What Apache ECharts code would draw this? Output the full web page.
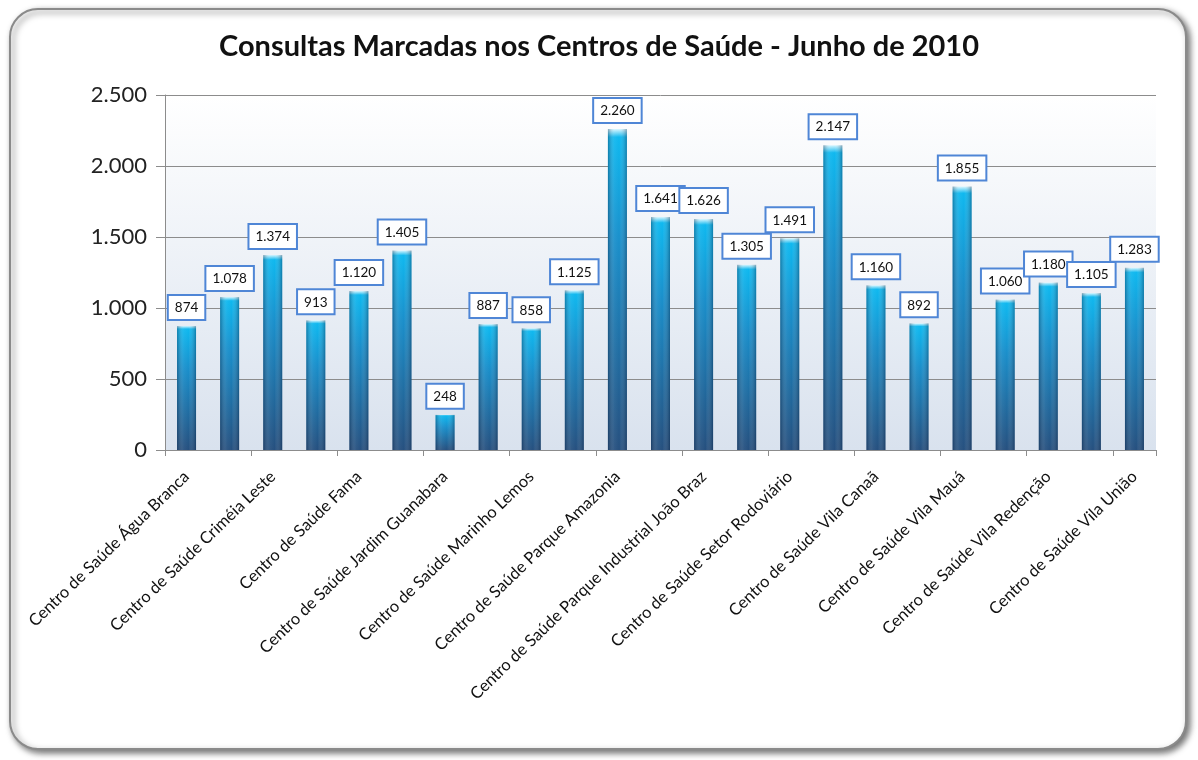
<!DOCTYPE html>
<html>
<head>
<meta charset="utf-8">
<script src="https://cdn.jsdelivr.net/npm/echarts@6/dist/echarts.min.js"></script>
<style>
  html, body { margin: 0; padding: 0; background: #fff; }
  #chart { width: 1198px; height: 760px; }
</style>
</head>
<body>
<div id="chart"></div>
<script>
// categories (only every other name is printed on the axis)
var centros = [
  'Centro de Saúde Água Branca',
  'Centro de Saúde Bairro Goiá',
  'Centro de Saúde Criméia Leste',
  'Centro de Saúde Criméia Oeste',
  'Centro de Saúde Fama',
  'Centro de Saúde Jardim América',
  'Centro de Saúde Jardim Guanabara',
  'Centro de Saúde Jardim Novo Mundo',
  'Centro de Saúde Marinho Lemos',
  'Centro de Saúde Novo Horizonte',
  'Centro de Saúde Parque Amazonia',
  'Centro de Saúde Parque Atheneu',
  'Centro de Saúde Parque Industrial João Braz',
  'Centro de Saúde Setor Pedro Ludovico',
  'Centro de Saúde Setor Rodoviário',
  'Centro de Saúde Vila Boa',
  'Centro de Saúde Vila Canaã',
  'Centro de Saúde Vila Isaura',
  'Centro de Saúde Vila Mauá',
  'Centro de Saúde Vila Nova',
  'Centro de Saúde Vila Redenção',
  'Centro de Saúde Vila Santa Helena',
  'Centro de Saúde Vila União'
]
var consultas = [874, 1078, 1374, 913, 1120, 1405, 248, 887, 858, 1125, 2260,
  1641, 1626, 1305, 1491, 2147, 1160, 892, 1855, 1060, 1180, 1105, 1283]
var yTicks = [0, 500, 1000, 1500, 2000, 2500]

function fmt(v) {
  return String(v).replace(/\B(?=(\d{3})+(?!\d))/g, '.')
}

var chart = echarts.init(document.getElementById('chart'))
chart.setOption({
  backgroundColor: '#fff',
  animation: false,
  graphic: [
    {
      type: 'rect',
      z: -10,
      shape: { x: 10, y: 9, width: 1176, height: 740, r: 28 },
      style: {
        fill: '#fff',
        stroke: '#8a8a8a',
        lineWidth: 2,
        shadowBlur: 6,
        shadowOffsetX: 3,
        shadowOffsetY: 3,
        shadowColor: 'rgba(0,0,0,0.55)'
      }
    }
  ],
  title: {
    text: 'Consultas Marcadas nos Centros de Saúde - Junho de 2010',
    left: 'center',
    top: 27,
    textStyle: {
      fontFamily: 'Lato',
      fontWeight: 'bold',
      fontSize: 29,
      color: '#111'
    }
  },
  grid: {
    left: 165,
    right: 42,
    top: 95,
    bottom: 310,
    show: true,
    borderWidth: 0,
    backgroundColor: new echarts.graphic.LinearGradient(0, 0, 0, 1, [
      { offset: 0, color: '#ffffff' },
      { offset: 1, color: '#d9e2ee' }
    ])
  },
  xAxis: {
    type: 'category',
    data: centros,
    axisLine: { lineStyle: { color: '#8c8c8c', width: 1 } },
    axisTick: { show: true, length: 6, lineStyle: { color: '#8c8c8c' } },
    axisLabel: {
      interval: 1,
      rotate: 44,
      margin: 24,
      fontFamily: 'Lato',
      fontSize: 16.5,
      color: '#111'
    }
  },
  yAxis: {
    type: 'value',
    min: 0,
    max: 2500,
    interval: 500,
    axisLine: { show: true, lineStyle: { color: '#8c8c8c' } },
    axisTick: { show: true, length: 9, lineStyle: { color: '#8c8c8c' } },
    splitLine: { lineStyle: { color: '#8c8c8c', width: 1 } },
    axisLabel: {
      fontFamily: 'Lato',
      fontSize: 22,
      color: '#222',
      margin: 18,
      customValues: yTicks,
      formatter: function (v) { return fmt(v) }
    }
  },
  series: [
    {
      name: 'Consultas',
      type: 'bar',
      data: consultas,
      barWidth: 19,
      itemStyle: {
        color: new echarts.graphic.LinearGradient(0, 0, 0, 1, [
          { offset: 0, color: '#d8f6ff' },
          { offset: 0.025, color: '#0fb8ef' },
          { offset: 0.35, color: '#1a8fcb' },
          { offset: 1, color: '#26507f' }
        ])
      },
      label: {
        show: true,
        position: 'top',
        distance: 7,
        formatter: function (p) { return fmt(p.value) },
        fontFamily: 'Lato',
        fontSize: 13.5,
        color: '#111',
        backgroundColor: '#fff',
        borderColor: '#4f86d6',
        borderWidth: 2,
        padding: [5, 6, 4, 6]
      },
      z: 2
    },
    {
      // side shading on top of the bars for the cylinder look
      name: 'sombra',
      type: 'bar',
      data: consultas,
      barWidth: 19,
      barGap: '-100%',
      silent: true,
      itemStyle: {
        color: new echarts.graphic.LinearGradient(0, 0, 1, 0, [
          { offset: 0, color: 'rgba(0,20,50,0.35)' },
          { offset: 0.35, color: 'rgba(255,255,255,0.05)' },
          { offset: 0.6, color: 'rgba(255,255,255,0)' },
          { offset: 1, color: 'rgba(0,20,50,0.35)' }
        ])
      },
      z: 3
    }
  ]
})
</script>
</body>
</html>
